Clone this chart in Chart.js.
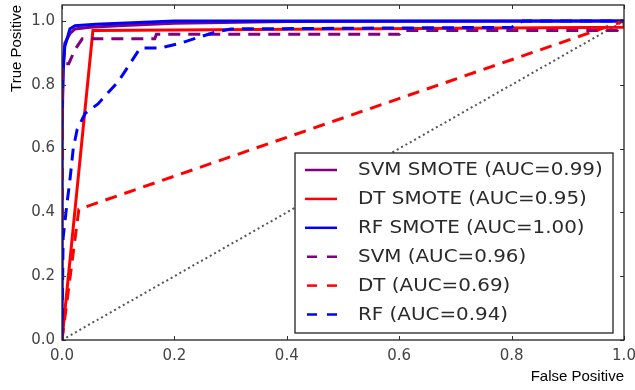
<!DOCTYPE html>
<html lang="en">
<head>
  <meta charset="UTF-8" />
  <title>ROC curves</title>
  <script src="https://cdn.jsdelivr.net/npm/chart.js"></script>
  <style>
    html, body { margin: 0; padding: 0; background: #fff; }
    .chart-box { width: 635px; height: 390px; }
  </style>
</head>
<body>
  <div class="chart-box"><canvas id="rocChart"></canvas></div>

  <script>
    // tick values on both axes
    const xTicks = [0, 0.2, 0.4, 0.6, 0.8, 1.0];
    const yTicks = [0, 0.2, 0.4, 0.6, 0.8, 1.0];

    // legend labels, same order as the curves below
    const curveLabels = [
      'SVM SMOTE (AUC=0.99)',
      'DT SMOTE (AUC=0.95)',
      'RF SMOTE (AUC=1.00)',
      'SVM (AUC=0.96)',
      'DT (AUC=0.69)',
      'RF (AUC=0.94)'
    ];

    // curves (false positive / true positive)
    const svmSmoteFpr = [0, 0, 0.002, 0.005, 0.014, 0.023, 0.05, 0.1, 0.2, 0.4, 1.0];
    const svmSmoteTpr = [0, 0.6, 0.86, 0.93, 0.96, 0.975, 0.98, 0.985, 0.993, 0.998, 1.0];

    const dtSmoteFpr = [0, 0.055, 1.0, 1.0];
    const dtSmoteTpr = [0, 0.97, 0.98, 1.0];

    const rfSmoteFpr = [0, 0, 0.002, 0.005, 0.01, 0.014, 0.023, 0.06, 0.2, 1.0];
    const rfSmoteTpr = [0, 0.7, 0.84, 0.92, 0.95, 0.975, 0.985, 0.99, 1.0, 1.0];

    const svmFpr = [0, 0.001, 0.012, 0.023, 0.036, 0.165, 0.168, 0.6, 0.605, 0.988, 1.0];
    const svmTpr = [0, 0.866, 0.866, 0.91, 0.944, 0.944, 0.958, 0.958, 0.97, 0.97, 1.0];

    const dtFpr = [0, 0.03, 0.975, 1.0];
    const dtTpr = [0, 0.41, 0.985, 1.0];

    const rfFpr = [0, 0.002, 0.009, 0.014, 0.02, 0.027, 0.041, 0.064, 0.1, 0.115, 0.139, 0.174, 0.21, 0.24, 0.275, 0.3, 0.8, 0.82, 1.0];
    const rfTpr = [0, 0.32, 0.43, 0.5, 0.6, 0.66, 0.71, 0.74, 0.81, 0.85, 0.915, 0.915, 0.93, 0.947, 0.966, 0.975, 0.98, 1.0, 1.0];

    const chanceFpr = [0, 1];
    const chanceTpr = [0, 1];

    function toPoints(xs, ys) {
      return xs.map((v, i) => ({ x: v, y: ys[i] }));
    }

    function curve(label, xs, ys, color, dashed, order) {
      return {
        label: label,
        data: toPoints(xs, ys),
        borderColor: color,
        borderWidth: 3,
        borderDash: dashed ? [12, 8] : [],
        pointRadius: 0,
        fill: false,
        tension: 0,
        order: order
      };
    }

    // matplotlib draws later lines on top, so order goes down
    const datasets = [
      { label: '', data: toPoints(chanceFpr, chanceTpr), borderColor: '#555', borderWidth: 2,
        borderDash: [2, 3], pointRadius: 0, fill: false, order: 9 },
      curve(curveLabels[0], svmSmoteFpr, svmSmoteTpr, '#800080', false, 8),
      curve(curveLabels[1], dtSmoteFpr, dtSmoteTpr, '#ff0000', false, 7),
      curve(curveLabels[2], rfSmoteFpr, rfSmoteTpr, '#0000ff', false, 6),
      curve(curveLabels[3], svmFpr, svmTpr, '#800080', true, 5),
      curve(curveLabels[4], dtFpr, dtTpr, '#ff0000', true, 4),
      curve(curveLabels[5], rfFpr, rfTpr, '#0000ff', true, 3)
    ];

    // frame, inward ticks and the boxed legend (matplotlib look)
    const rocFrame = {
      id: 'rocFrame',
      afterDatasetsDraw(chart) {
        const { ctx, chartArea: a, scales } = chart;
        const x = scales.x, y = scales.y;
        ctx.save();

        ctx.strokeStyle = '#333';
        ctx.lineWidth = 1;
        ctx.beginPath();
        xTicks.forEach(v => {
          const px = Math.round(x.getPixelForValue(v)) + 0.5;
          ctx.moveTo(px, a.bottom); ctx.lineTo(px, a.bottom - 4);
          ctx.moveTo(px, a.top); ctx.lineTo(px, a.top + 4);
        });
        yTicks.forEach(v => {
          const py = Math.round(y.getPixelForValue(v)) + 0.5;
          ctx.moveTo(a.left, py); ctx.lineTo(a.left + 4, py);
          ctx.moveTo(a.right, py); ctx.lineTo(a.right - 4, py);
        });
        ctx.stroke();

        ctx.strokeStyle = '#222';
        ctx.lineWidth = 1.3;
        ctx.strokeRect(a.left, a.top, a.right - a.left, a.bottom - a.top);

        // legend box in the lower right corner
        const w = 318, h = 180;
        const bx = a.right - 11 - w;
        const by = a.bottom - 7 - h;
        ctx.fillStyle = '#fff';
        ctx.fillRect(bx, by, w, h);
        ctx.strokeRect(bx, by, w, h);

        const items = chart.data.datasets.filter(d => d.label);
        items.forEach((d, i) => {
          const cy = by + 17 + i * 28.9;
          const dashed = d.borderDash.length > 0;
          ctx.save();
          ctx.strokeStyle = d.borderColor;
          ctx.lineWidth = 2.5;
          ctx.setLineDash(dashed ? [10, 10] : []);
          ctx.beginPath();
          ctx.moveTo(bx + (dashed ? 12 : 10), cy);
          ctx.lineTo(bx + 42, cy);
          ctx.stroke();
          ctx.restore();

          ctx.save();
          ctx.font = '17px "DejaVu Sans"';
          ctx.fillStyle = '#2a2a2a';
          ctx.textBaseline = 'middle';
          ctx.translate(bx + 63, cy + 1);
          ctx.scale(1.17, 1);
          ctx.fillText(d.label, 0, 0);
          ctx.restore();
        });

        ctx.restore();
      }
    };

    const ctx = document.getElementById('rocChart').getContext('2d');
    const rocChart = new Chart(ctx, {
      type: 'line',
      data: { datasets: datasets },
      options: {
        responsive: true,
        maintainAspectRatio: false,
        animation: false,
        devicePixelRatio: 1,
        layout: { padding: { top: 5, right: 11, left: 0, bottom: 0 } },
        plugins: {
          legend: { display: false },
          tooltip: { enabled: false }
        },
        scales: {
          x: {
            type: 'linear',
            min: 0,
            max: 1,
            afterBuildTicks: s => { s.ticks = xTicks.map(v => ({ value: v })); },
            afterFit: s => { s.height = 50; s.paddingLeft = 0; s.paddingRight = 0; },
            grid: { display: false, drawTicks: false },
            border: { display: false },
            ticks: {
              padding: 7,
              color: '#444',
              font: { family: 'DejaVu Sans', size: 15 },
              callback: v => v.toFixed(1)
            },
            title: {
              display: true,
              text: 'False Positive',
              align: 'end',
              color: '#000',
              font: { family: 'Liberation Sans', size: 15 },
              padding: { top: 0, bottom: 4 }
            }
          },
          y: {
            type: 'linear',
            min: 0,
            max: 1.05,
            afterBuildTicks: s => { s.ticks = yTicks.map(v => ({ value: v })); },
            afterFit: s => { s.width = 62; s.paddingTop = 0; s.paddingBottom = 0; },
            grid: { display: false, drawTicks: false },
            border: { display: false },
            ticks: {
              padding: 7,
              color: '#444',
              font: { family: 'DejaVu Sans', size: 15 },
              callback: v => v.toFixed(1)
            },
            title: {
              display: true,
              text: 'True Positive',
              align: 'end',
              color: '#000',
              font: { family: 'Liberation Sans', size: 15, lineHeight: 1.7 }
            }
          }
        }
      },
      plugins: [rocFrame]
    });
  </script>
</body>
</html>
